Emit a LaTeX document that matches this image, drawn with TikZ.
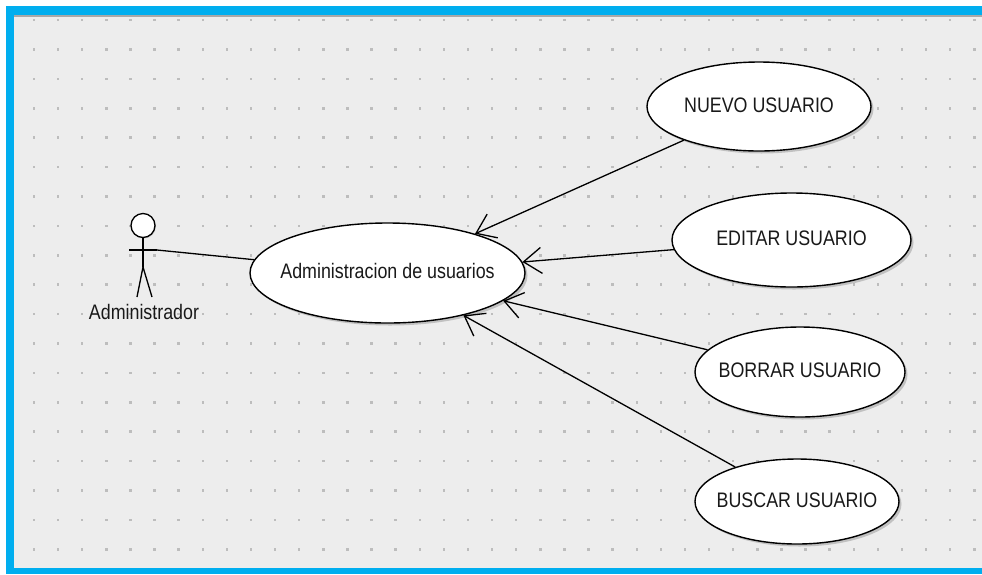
\documentclass[tikz,border=0pt]{standalone}
\usepackage{fontspec}
\setmainfont{Liberation Sans}[FakeStretch=0.85]
\usetikzlibrary{arrows.meta,shapes.geometric,shadows}
\definecolor{frameblue}{HTML}{00AEEF}
\definecolor{bggrey}{HTML}{EDEDED}
\definecolor{dotgrey}{HTML}{BDBDBD}
\definecolor{topline}{HTML}{A8A8A8}
\newcommand{\uclabel}[1]{\makebox[0pt]{\raisebox{3.5pt}{#1}}}
\begin{document}
\begin{tikzpicture}[x=1pt,y=-1pt,
  usecase/.style={ellipse, draw=black, line width=1.4pt, fill=white, inner sep=0pt,
    font=\fontsize{21}{24}\selectfont, text=black!90,
    drop shadow={shadow xshift=2.5pt, shadow yshift=-2.5pt, opacity=0.4}},
  link/.style={line width=1.3pt, draw=black},
  inc/.style={link, -{Straight Barb[length=18pt,width=26pt,line width=1.3pt]}},
  stick/.style={line width=1.3pt}
]
\useasboundingbox (0,0) rectangle (982,574);
\fill[white] (0,0) rectangle (982,574);
\fill[bggrey] (14,15) rectangle (982,568);
\fill[topline] (14,15) rectangle (982,17);
\fill[frameblue] (6,6) rectangle (982,15);
\fill[frameblue] (6,6) rectangle (14,574);
\fill[frameblue] (6,567.7) rectangle (982,574);
\foreach \i in {0,...,39}{\foreach \j in {0,...,18}{
  \fill[dotgrey] ({32.8+24.11*\i},{18.7+29.4*\j}) rectangle ++(2.4,2.6);}}

\node[usecase, minimum width=275pt, minimum height=100pt] (main) at (387.5,273) {\uclabel{Administracion de usuarios}};
\node[usecase, minimum width=224pt, minimum height=89pt] (nuevo) at (759,106.5) {\uclabel{NUEVO USUARIO}};
\node[usecase, minimum width=239pt, minimum height=94pt] (editar) at (791.5,240) {\uclabel{EDITAR USUARIO}};
\node[usecase, minimum width=210pt, minimum height=90pt] (borrar) at (800,372) {\uclabel{BORRAR USUARIO}};
\node[usecase, minimum width=204pt, minimum height=85pt] (buscar) at (797,501.5) {\uclabel{BUSCAR USUARIO}};

\node[circle, draw=black, line width=1.3pt, fill=white, minimum size=24pt, inner sep=0pt,
  drop shadow={shadow xshift=1pt, shadow yshift=-1pt, opacity=0.3}] (head) at (143,225.5) {};
\coordinate (hip) at (143,267);
\coordinate (lhand) at (129,250);
\coordinate (rhand) at (157,250);
\coordinate (lfoot) at (137,297);
\coordinate (rfoot) at (152,297);
\draw[stick] (head.south) -- (hip);
\draw[stick] (lhand) -- (rhand);
\draw[stick] (lfoot) -- (hip) -- (rfoot);
\node[font=\fontsize{21}{24}\selectfont, text=black!90, inner sep=0pt] (adminlabel) at (144,312) {Administrador};

\draw[link] (rhand) -- (main);
\draw[inc] (nuevo) -- (main);
\draw[inc] (editar) -- (main);
\draw[inc] (borrar) -- (main);
\draw[inc] (buscar) -- (main);
\end{tikzpicture}
\end{document}
